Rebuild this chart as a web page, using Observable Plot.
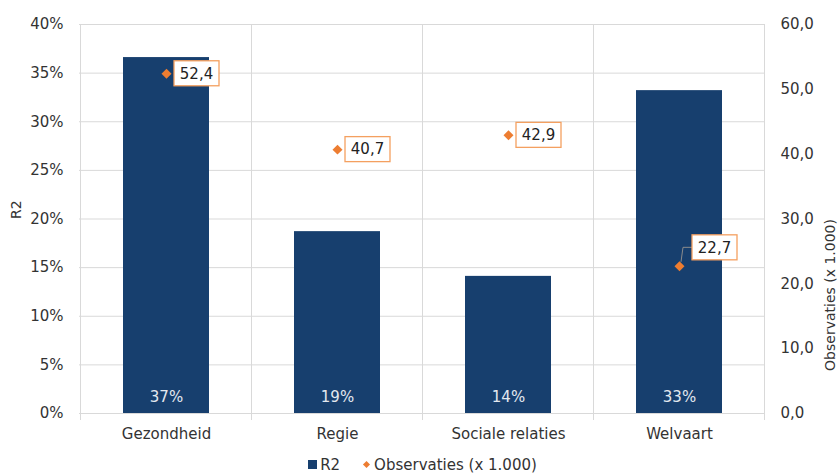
<!DOCTYPE html>
<html><head><meta charset="utf-8">
<script src="https://cdn.jsdelivr.net/npm/d3@7"></script>
<script src="https://cdn.jsdelivr.net/npm/@observablehq/plot@0.6"></script>
<style>
body{margin:0;background:#fff;font-family:"DejaVu Sans",Verdana,sans-serif;}
#legend{height:22px;line-height:25px;margin-top:3px;font-size:15px;color:#333;text-align:center;padding-left:6px;box-sizing:border-box;}
#legend .sq{display:inline-block;width:9px;height:9px;background:#173f6e;margin-right:3px;vertical-align:middle;position:relative;top:-1px;}
#legend .dm{display:inline-block;width:5px;height:5px;background:#ed7d31;transform:rotate(45deg);margin:0 5px 0 24px;vertical-align:middle;position:relative;top:-1px;}
</style></head><body>
<div id="chart"></div>
<div id="legend"><span class="sq"></span>R2<span class="dm"></span>Observaties (x 1.000)</div>
<script>
const categories = ["Gezondheid", "Regie", "Sociale relaties", "Welvaart"];
const r2 = [0.366, 0.187, 0.141, 0.332];
const r2Labels = ["37%", "19%", "14%", "33%"];
const observaties = [52.4, 40.7, 42.9, 22.7];
const obsLabels = ["52,4", "40,7", "42,9", "22,7"];
const leftTicks = [0, 0.05, 0.10, 0.15, 0.20, 0.25, 0.30, 0.35, 0.40];
const rightTicks = [0, 10, 20, 30, 40, 50, 60];
const leftMax = 0.4, rightMax = 60;

const data = categories.map((c, i) => ({
  cat: c, r2: r2[i], label: r2Labels[i], obs: observaties[i],
  obsLabel: obsLabels[i], obsY: observaties[i] / rightMax * leftMax
}));

const font = '"DejaVu Sans", Verdana, sans-serif';
const plot = Plot.plot({
  width: 839, height: 450,
  marginTop: 24, marginBottom: 37, marginLeft: 79, marginRight: 74,
  style: {fontFamily: font, fontSize: "15px", color: "#333", background: "#fff"},
  x: {domain: categories, paddingInner: 0.5, paddingOuter: 0.25, label: null},
  y: {domain: [0, leftMax], label: null},
  marks: [
    Plot.gridY(leftTicks, {stroke: "#d9d9d9", strokeOpacity: 1}),
    Plot.barY(data, {x: "cat", y: "r2", fill: "#173f6e"}),
    Plot.text(data, {x: "cat", y: 0, text: "label", dy: -16, fill: "#e3e8ef", fontSize: 15}),
    Plot.dot(data, {x: "cat", y: "obsY", symbol: d3.symbolDiamond2, r: 4.5, fill: "#ed7d31"}),
    Plot.axisX({tickSize: 0, tickPadding: 15, label: null, fontSize: 15}),
    Plot.axisY(leftTicks, {tickSize: 0, tickPadding: 16, label: null, fontSize: 15,
      tickFormat: d => Math.round(d * 100) + "%"}),
    Plot.axisY(rightTicks.map(v => v / rightMax * leftMax), {anchor: "right", tickSize: 0, tickPadding: 15, label: null, fontSize: 15,
      tickFormat: d => (d / leftMax * rightMax).toFixed(1).replace(".", ",")}),
    Plot.text(["R2"], {text: d => d, frameAnchor: "left", dx: -63, rotate: -90, fontSize: 14, fill: "#333"}),
    Plot.text(["Observaties (x 1.000)"], {text: d => d, frameAnchor: "right", dx: 65, rotate: -90, fontSize: 14, fill: "#333"})
  ]
});
document.getElementById("chart").appendChild(plot);

// vertical category gridlines and label boxes, placed through the plot's own scales
const xs = plot.scale("x"), ys = plot.scale("y");
const bw = xs.bandwidth, step = xs.step, gap = (step - bw) / 2;
const svg = d3.select(plot);
const y0 = ys.apply(0), yTop = ys.apply(leftMax);
const edges = categories.map(c => xs.apply(c) - gap);
edges.push(xs.apply(categories[categories.length - 1]) + bw + gap);
const barG = plot.querySelector('g[aria-label="bar"]');
const vg = document.createElementNS("http://www.w3.org/2000/svg", "g");
plot.insertBefore(vg, barG);
d3.select(vg).selectAll("line").data(edges).join("line")
  .attr("x1", d => d).attr("x2", d => d).attr("y1", yTop).attr("y2", y0 + 7)
  .attr("stroke", "#d9d9d9");

const lg = svg.append("g");
data.forEach(d => {
  const cx = xs.apply(d.cat) + bw / 2, cy = ys.apply(d.obsY);
  const leader = d.cat === "Welvaart";
  const bx = cx + (leader ? 13 : 8), by = cy - (leader ? 31 : 12.5);
  if (leader) {
    lg.append("path").attr("d", `M${cx + 2},${cy - 4}L${cx + 4},${cy - 18.5}L${bx},${cy - 18.5}`)
      .attr("fill", "none").attr("stroke", "#8c8c8c").attr("stroke-width", 1);
  }
  lg.append("rect").attr("x", bx).attr("y", by).attr("width", 45).attr("height", 25)
    .attr("fill", "#fff").attr("stroke", "#f4a060").attr("stroke-width", 1.3);
  lg.append("text").attr("x", bx + 22.5).attr("y", by + 12.5).attr("dy", "0.35em")
    .attr("text-anchor", "middle").attr("font-family", font).attr("font-size", 15)
    .attr("fill", "#222").text(d.obsLabel);
});
</script>
</body></html>
